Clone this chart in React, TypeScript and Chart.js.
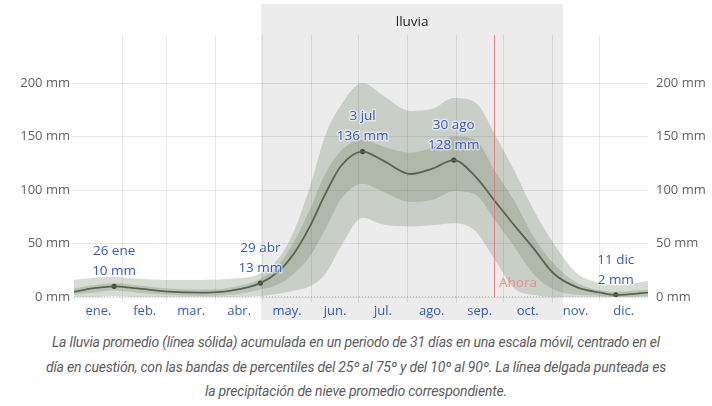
import { useEffect, useRef } from "react";
import { Chart, registerables } from "chart.js";
Chart.register(...registerables);

// Day of year (0 = 1 Jan) for the sampled curve points
const days = [0, 12, 25.5, 40, 60, 80, 100, 118.5, 130, 140, 150, 160, 170, 183.5, 196, 214, 228, 241.5, 255, 268, 280, 292, 305, 320, 335, 344.5, 365];
const meanRain = [5, 8, 10, 8, 5, 4, 6, 13, 24, 41, 66, 97, 123, 136, 128, 115, 120, 128, 113, 89, 67, 46, 22, 9, 4, 2, 4];
const p90Rain = [16, 18, 19, 17, 16, 16, 17, 22, 36, 62, 103, 152, 180, 200, 189, 174, 176, 186, 182, 151, 118, 82, 50, 22, 13, 11, 15];
const p75Rain = [8, 11, 13, 11, 8, 7, 9, 17, 30, 52, 82, 116, 137, 147, 141, 135, 140, 150, 147, 117, 90, 57, 31, 13, 6, 5, 7];
const p25Rain = [2, 4, 6, 4, 2, 1, 2, 7, 12, 22, 38, 64, 92, 106, 99, 89, 91, 99, 96, 71, 47, 22, 7, 2, 1, 0, 1];
const p10Rain = [0, 0, 1, 0, 0, 0, 0, 1, 3, 6, 10, 22, 48, 74, 68, 66, 67, 69, 62, 34, 8, 2, 0, 0, 0, 0, 0];

const snowDays = [0, 365];
const snowMean = [0, 0];

const monthBoundaries = [31, 59, 90, 120, 151, 181, 212, 243, 273, 304, 334];
const monthMids = [15.5, 45, 74.5, 105, 135.5, 166, 196.5, 227.5, 258, 288.5, 319, 349.5];
const monthLabels = ["ene.", "feb.", "mar.", "abr.", "may.", "jun.", "jul.", "ago.", "sep.", "oct.", "nov.", "dic."];
const yTicks = [0, 50, 100, 150, 200];

const markerDays = [25.5, 118.5, 183.5, 241.5, 344.5];
const markerValues = [10, 13, 136, 128, 2];
const markerDates = ["26 ene", "29 abr", "3 jul", "30 ago", "11 dic"];

const seasonStart = 119;
const seasonEnd = 311;
const seasonLabel = "lluvia";
const nowDay = 267;
const nowLabel = "Ahora";

const captionLines = [
  "La lluvia promedio (línea sólida) acumulada en un periodo de 31 días en una escala móvil, centrado en el",
  "día en cuestión, con las bandas de percentiles del 25º al 75º y del 10º al 90º. La línea delgada punteada es",
  "la precipitación de nieve promedio correspondiente.",
];

const FONT = "'Open Sans', 'Noto Sans', sans-serif";
const BLUE = "#3459c4";

const pts = (xs: number[], ys: number[]) => xs.map((d, i) => ({ x: d, y: ys[i] }));

export default function App() {
  const ref = useRef<HTMLCanvasElement | null>(null);

  useEffect(() => {
    if (!ref.current) return;

    const decor = {
      id: "decor",
      beforeDraw(chart: any) {
        const { ctx, chartArea, scales } = chart;
        const x = scales.x;
        const x0 = x.getPixelForValue(seasonStart);
        const x1 = x.getPixelForValue(seasonEnd);
        ctx.save();
        ctx.fillStyle = "#ececec";
        ctx.fillRect(x0, 4, x1 - x0, chartArea.bottom + 23 - 4);
        ctx.fillStyle = "#222";
        ctx.font = `13.5px ${FONT}`;
        ctx.textAlign = "center";
        ctx.textBaseline = "middle";
        ctx.fillText(seasonLabel, (x0 + x1) / 2, 22);
        ctx.restore();
      },
      afterDatasetsDraw(chart: any) {
        const { ctx, chartArea, scales } = chart;
        const x = scales.x;
        const y = scales.y;
        ctx.save();
        // now line
        const nx = Math.round(x.getPixelForValue(nowDay)) + 0.5;
        ctx.strokeStyle = "rgba(236,110,110,0.85)";
        ctx.lineWidth = 1;
        ctx.beginPath();
        ctx.moveTo(nx, chartArea.top);
        ctx.lineTo(nx, chartArea.bottom);
        ctx.stroke();
        ctx.fillStyle = "#f08a8a";
        ctx.font = `13.5px ${FONT}`;
        ctx.textAlign = "left";
        ctx.textBaseline = "middle";
        ctx.fillText(nowLabel, nx + 4.5, 283);
        // annotations
        ctx.font = `13.5px ${FONT}`;
        ctx.textAlign = "center";
        ctx.lineJoin = "round";
        markerDays.forEach((d, i) => {
          const px = x.getPixelForValue(d);
          const py = y.getPixelForValue(markerValues[i]);
          const l1 = markerDates[i];
          const l2 = `${markerValues[i]} mm`;
          ctx.lineWidth = 3;
          ctx.strokeStyle = "rgba(255,255,255,0.5)";
          ctx.strokeText(l1, px, py - 35);
          ctx.strokeText(l2, px, py - 15);
          ctx.fillStyle = BLUE;
          ctx.fillText(l1, px, py - 35);
          ctx.fillText(l2, px, py - 15);
        });
        ctx.restore();
      },
    };

    const gridColor = "rgba(0,0,0,0.09)";

    const chart = new Chart(ref.current, {
      type: "line",
      data: {
        datasets: [
          {
            label: "mean",
            data: pts(days, meanRain),
            borderColor: "#56664d",
            borderWidth: 1.8,
            pointRadius: 0,
            fill: false,
            cubicInterpolationMode: "monotone",
          },
          {
            label: "snow",
            data: pts(snowDays, snowMean),
            borderColor: "#9a9a9a",
            borderWidth: 1,
            borderDash: [1, 2],
            pointRadius: 0,
            fill: false,
          },
          {
            label: "p90",
            data: pts(days, p90Rain),
            borderWidth: 0,
            borderColor: "rgba(0,0,0,0)",
            backgroundColor: "rgba(120,140,110,0.3)",
            pointRadius: 0,
            fill: 3,
            cubicInterpolationMode: "monotone",
          },
          {
            label: "p10",
            data: pts(days, p10Rain),
            borderWidth: 0,
            borderColor: "rgba(0,0,0,0)",
            pointRadius: 0,
            fill: false,
            cubicInterpolationMode: "monotone",
          },
          {
            label: "p75",
            data: pts(days, p75Rain),
            borderWidth: 0,
            borderColor: "rgba(0,0,0,0)",
            backgroundColor: "rgba(95,112,85,0.26)",
            pointRadius: 0,
            fill: 5,
            cubicInterpolationMode: "monotone",
          },
          {
            label: "p25",
            data: pts(days, p25Rain),
            borderWidth: 0,
            borderColor: "rgba(0,0,0,0)",
            pointRadius: 0,
            fill: false,
            cubicInterpolationMode: "monotone",
          },
          {
            label: "markers",
            data: pts(markerDays, markerValues),
            showLine: false,
            pointRadius: 2.6,
            pointBackgroundColor: "#111",
            pointBorderWidth: 0,
            borderColor: "#111",
          },
        ],
      },
      options: {
        animation: false,
        responsive: false,
        maintainAspectRatio: false,
        layout: { padding: { top: 35, left: 0, right: 0, bottom: 0 } },
        plugins: { legend: { display: false }, tooltip: { enabled: false } },
        scales: {
          x: {
            type: "linear",
            position: "bottom",
            weight: 0,
            min: 0,
            max: 365,
            border: { display: false },
            grid: { color: gridColor, tickLength: 6, drawTicks: true },
            ticks: { display: false },
            afterBuildTicks: (s: any) => {
              s.ticks = monthBoundaries.map((v) => ({ value: v }));
            },
            afterFit: (s: any) => {
              s.height = 0;
            },
          },
          x2: {
            type: "linear",
            position: "bottom",
            weight: 1,
            min: 0,
            max: 365,
            border: { display: false },
            grid: { display: false, drawTicks: false },
            ticks: {
              autoSkip: false,
              maxRotation: 0,
              padding: 6,
              color: BLUE,
              font: { size: 13, family: FONT },
              callback: (_v: any, i: number) => monthLabels[i],
            },
            afterBuildTicks: (s: any) => {
              s.ticks = monthMids.map((v) => ({ value: v }));
            },
            afterFit: (s: any) => {
              s.height = 33;
            },
          },
          y: {
            position: "left",
            min: 0,
            max: 245,
            border: { display: false },
            grid: { color: gridColor, tickLength: 3 },
            ticks: {
              padding: 1,
              color: "#5f5f5f",
              font: { size: 13, family: FONT },
              callback: (v: any) => `${v} mm`,
            },
            afterBuildTicks: (s: any) => {
              s.ticks = yTicks.map((v) => ({ value: v }));
            },
            afterFit: (s: any) => {
              s.width = 74;
            },
          },
          y2: {
            position: "right",
            min: 0,
            max: 245,
            border: { display: false },
            grid: { display: false, tickLength: 3 },
            ticks: {
              padding: 5,
              color: "#5f5f5f",
              font: { size: 13, family: FONT },
              callback: (v: any) => `${v} mm`,
            },
            afterBuildTicks: (s: any) => {
              s.ticks = yTicks.map((v) => ({ value: v }));
            },
            afterFit: (s: any) => {
              s.width = 64;
            },
          },
        },
      } as any,
      plugins: [decor],
    });
    return () => chart.destroy();
  }, []);

  return (
    <div style={{ position: "absolute", left: 0, top: 0, width: 712, height: 406, background: "#fff", overflow: "hidden" }}>
      <canvas ref={ref} width={712} height={330} style={{ display: "block", width: 712, height: 330 }} />
      <div
        style={{
          position: "absolute",
          left: 0,
          top: 330,
          width: 712,
          textAlign: "center",
          fontFamily: "'Liberation Sans Narrow', 'Roboto', sans-serif",
          fontStyle: "italic",
          fontSize: 14,
          letterSpacing: "-0.2px",
          lineHeight: "24.5px",
          color: "#5c5c5c",
          whiteSpace: "nowrap",
        }}
      >
        {captionLines.map((l, i) => (
          <div key={i}>{l}</div>
        ))}
      </div>
    </div>
  );
}
